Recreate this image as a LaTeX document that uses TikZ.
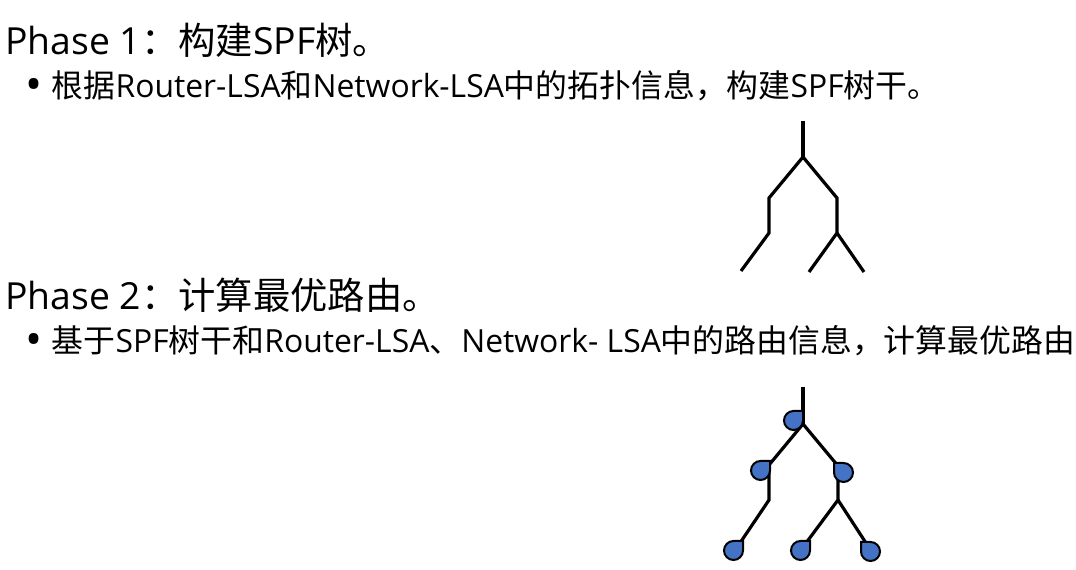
\documentclass[tikz,border=0pt]{standalone}
\usepackage{fontspec}
\setmainfont{Open Sans}
\newfontfamily\zhfont{Noto Sans CJK SC}
\newcommand{\zh}[1]{{\zhfont #1}}
\newcommand{\itembullet}{{\fontsize{34}{34}\selectfont\raisebox{-0.05em}{•}}}
\usetikzlibrary{positioning}

\begin{document}
\begin{tikzpicture}[
x=0.75pt, y=-0.75pt,
phase/.style={anchor=base west, inner sep=0pt, font=\fontsize{28}{32}\selectfont},
item/.style={anchor=base west, inner sep=0pt, font=\fontsize{23.9}{28}\selectfont},
branch/.style={line width=2.4pt, line join=miter, line cap=butt},
drop/.pic={\draw[line width=1.5pt, fill=dropblue] (0,0) -- (0,9.5) arc[start angle=0, end angle=270, radius=9.5] -- cycle;}
]
\definecolor{dropblue}{HTML}{4472C4}
\useasboundingbox (0,0) rectangle (1076,570);

% text
\node[phase] (phaseA) at (5,55) {Phase 1\zh{：构建}SPF\zh{树。}};
\node[item] (itemA) at (25,98) {\itembullet\hspace{0.3em}\zh{根据}Router-LSA\zh{和}Network-LSA\zh{中的拓扑信息，构建}SPF\zh{树干。}};
\node[phase] (phaseB) at (5,310) {Phase 2\zh{：计算最优路由。}};
\node[item] (itemB) at (25,353) {\itembullet\hspace{0.3em}\zh{基于}SPF\zh{树干和}Router-LSA\zh{、}Network- LSA\zh{中的路由信息，计算最优路由}};

% tree of phase 1
\coordinate (aTop) at (803,121);
\coordinate (aFork) at (803,157);
\coordinate (aL1) at (769,198);
\coordinate (aL2) at (769,233);
\coordinate (aLL) at (741,271);
\coordinate (aR1) at (837,198);
\coordinate (aR2) at (837,233);
\coordinate (aRL) at (809,272);
\coordinate (aRR) at (864,272);

\draw[branch] (aTop) -- (aFork);
\draw[branch] (aFork) -- (aL1) -- (aL2) -- (aLL);
\draw[branch] (aFork) -- (aR1) -- (aR2) -- (aRL);
\draw[branch] (aR2) -- (aRR);

% tree of phase 2
\coordinate (bTop) at (803,387);
\coordinate (bFork) at (803,424);
\coordinate (bL1) at (769,465);
\coordinate (bL2) at (769,500);
\coordinate (bLL) at (740,543);
\coordinate (bR1) at (838,466);
\coordinate (bR2) at (838,500);
\coordinate (bRL) at (806,543);
\coordinate (bRR) at (866,543);

\draw[branch] (bTop) -- (bFork);
\draw[branch] (bFork) -- (bL1) -- (bL2) -- (bLL);
\draw[branch] (bFork) -- (bR1) -- (bR2) -- (bRL);
\draw[branch] (bR2) -- (bRR);

% leaves
\pic at (803,411) {drop};
\pic at (770,461) {drop};
\pic[xscale=-1] at (834,463) {drop};
\pic at (743,541) {drop};
\pic at (810,541) {drop};
\pic[xscale=-1] at (861,542) {drop};

\end{tikzpicture}
\end{document}
